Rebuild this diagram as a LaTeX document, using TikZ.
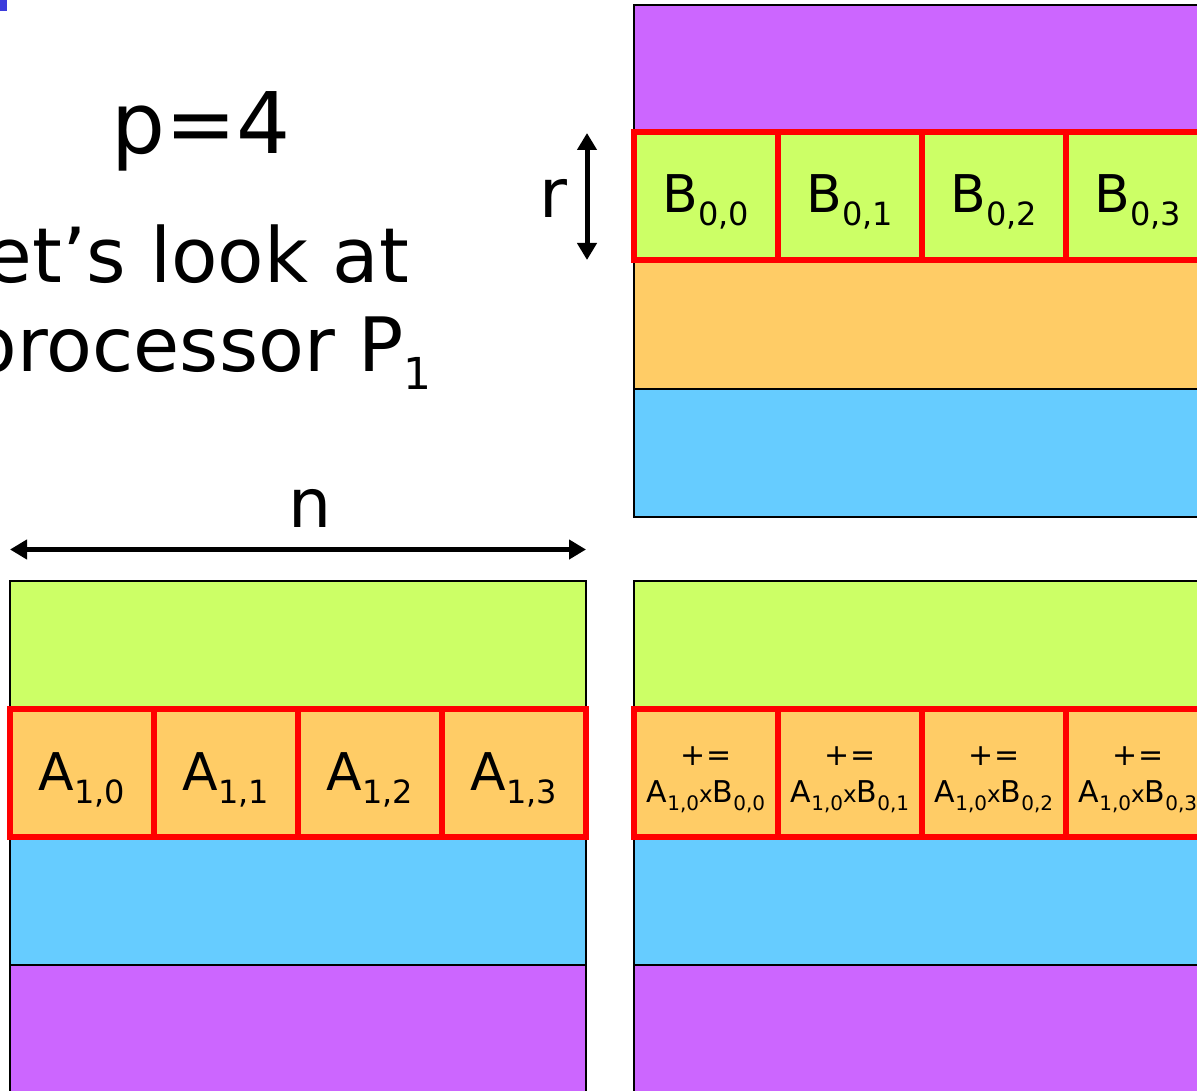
\documentclass[tikz,border=0pt]{standalone}
\usepackage{fontspec}
\setmainfont{DejaVu Sans}
\usetikzlibrary{arrows.meta}
\definecolor{cpurple}{HTML}{CC66FF}
\definecolor{cgreen}{HTML}{CCFF66}
\definecolor{corange}{HTML}{FFCC66}
\definecolor{cblue}{HTML}{66CCFF}
\definecolor{cmark}{RGB}{60,60,220}
\newcommand\bigsub[1]{\raisebox{-13pt}{\fontsize{32}{32}\selectfont #1}}
\newcommand\smallsub[1]{\raisebox{-8pt}{\fontsize{20}{20}\selectfont #1}}
\newcommand\smallx{{\fontsize{23}{23}\selectfont x}}
\newcommand\titlesub[1]{\raisebox{-18pt}{\fontsize{44}{44}\selectfont #1}}
\begin{document}
\begin{tikzpicture}[x=1pt,y=-1pt,
  band/.style={draw=black, line width=2pt},
  cell/.style={draw=red, line width=6pt, minimum width=144pt, minimum height=128pt, inner sep=0pt, outer sep=0pt},
  biglab/.style={anchor=base, inner sep=0pt, font=\fontsize{52}{52}\selectfont},
  smalllab/.style={anchor=base, inner sep=0pt, font=\fontsize{30}{30}\selectfont},
  dimlab/.style={anchor=base, inner sep=0pt, font=\fontsize{68}{68}\selectfont},
  dimarrow/.style={line width=5pt, {Triangle[length=17pt,width=19pt]}-{Triangle[length=17pt,width=19pt]}}
]
\useasboundingbox (0,0) rectangle (1197,1091);
\clip (0,0) rectangle (1197,1091);

% blue mark
\fill[cmark] (0,0) rectangle (7,11);

% title texts
\node[anchor=base, inner sep=0pt, font=\fontsize{85}{85}\selectfont] (ptxt) at (201,154) {p=4};
\node[anchor=base east, inner sep=0pt, font=\fontsize{76}{76}\selectfont] (look) at (409,283) {Let’s look at};
\node[anchor=base east, inner sep=0pt, font=\fontsize{75}{75}\selectfont] (proc) at (432,371) {processor P\titlesub{1}};

% matrix B (top right)
\filldraw[band, fill=cpurple] (634,5) rectangle (1220,132);
\filldraw[band, fill=cgreen] (634,132) rectangle (1220,260);
\filldraw[band, fill=corange] (634,260) rectangle (1220,389);
\filldraw[band, fill=cblue] (634,389) rectangle (1220,517);
\foreach \i/\x in {0/706,1/850,2/994,3/1138}{
  \node[cell, fill=cgreen] (b\i) at (\x,196) {};
  \node[biglab] (lb\i) at (\x,213) {B\bigsub{0,\i}};
}

% matrix A (bottom left)
\filldraw[band, fill=cgreen] (10,581) rectangle (586,709);
\filldraw[band, fill=corange] (10,709) rectangle (586,837);
\filldraw[band, fill=cblue] (10,837) rectangle (586,965);
\filldraw[band, fill=cpurple] (10,965) rectangle (586,1100);
\foreach \i/\x in {0/82,1/226,2/370,3/514}{
  \node[cell, fill=corange] (a\i) at (\x,773) {};
  \node[biglab] (la\i) at (\x,790) {A\bigsub{1,\i}};
}

% matrix C (bottom right)
\filldraw[band, fill=cgreen] (634,581) rectangle (1220,709);
\filldraw[band, fill=corange] (634,709) rectangle (1220,837);
\filldraw[band, fill=cblue] (634,837) rectangle (1220,965);
\filldraw[band, fill=cpurple] (634,965) rectangle (1220,1100);
\foreach \i/\x in {0/706,1/850,2/994,3/1138}{
  \node[cell, fill=corange] (c\i) at (\x,773) {};
  \node[smalllab] (pe\i) at (\x,765) {+=};
  \node[smalllab] (lc\i) at (\x,802) {A\smallsub{1,0}\smallx B\smallsub{0,\i}};
}

% dimension arrows
\coordinate (nL) at (10,549.5);
\coordinate (nR) at (586,549.5);
\draw[dimarrow] (nL) -- (nR);
\node[dimlab] (nlab) at (310.5,527) {n};
\coordinate (rT) at (587,133);
\coordinate (rB) at (587,260);
\draw[dimarrow] (rT) -- (rB);
\node[dimlab] (rlab) at (553,218) {r};
\end{tikzpicture}
\end{document}
